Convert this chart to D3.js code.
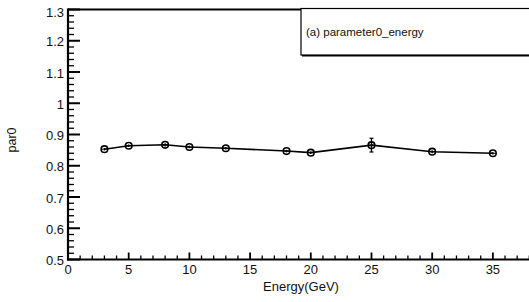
<!DOCTYPE html>
<html>
<head>
<meta charset="utf-8">
<script src="https://cdn.jsdelivr.net/npm/d3@7"></script>
<style>
  body { margin: 0; background: #fff; }
  svg { display: block; font-family: 'Liberation Sans', Arial, sans-serif; }
</style>
</head>
<body>
<div id="cnt"></div>
<script>
const energies = [3, 5, 8, 10, 13, 18, 20, 25, 30, 35]
const par0 = [0.853, 0.864, 0.867, 0.860, 0.856, 0.847, 0.842, 0.866, 0.845, 0.840]
const par0Err = [0.004, 0.004, 0.005, 0.004, 0.004, 0.004, 0.004, 0.022, 0.005, 0.004]
const xMajor = [0, 5, 10, 15, 20, 25, 30, 35]
const yMajor = [0.5, 0.6, 0.7, 0.8, 0.9, 1, 1.1, 1.2, 1.3]
const legendText = '(a) parameter0_energy'
const xTitle = 'Energy(GeV)'
const yTitle = 'par0'

const width = 529
const height = 302

const x = d3.scaleLinear().domain([0, 38]).range([68, 529.3])
const y = d3.scaleLinear().domain([0.5, 1.3]).range([259.5, 9.5])

const svg = d3.select('#cnt')
    .append('svg')
    .attr('width', width)
    .attr('height', height)

// frame top line
svg.append('line')
    .attr('x1', x(0)).attr('x2', width)
    .attr('y1', y(1.3)).attr('y2', y(1.3))
    .attr('stroke', 'black')
    .attr('stroke-width', 2)

// y axis
const yTicks = d3.range(0, 41).map(i => 0.5 + i * 0.02)
const isYMajor = d => yMajor.some(v => Math.abs(v - d) < 1e-6)
svg.append('g')
    .selectAll('line')
    .data(yTicks)
    .join('line')
    .attr('x1', x(0))
    .attr('x2', d => x(0) + (isYMajor(d) ? 12 : 6))
    .attr('y1', d => y(d)).attr('y2', d => y(d))
    .attr('stroke', 'black')
    .attr('stroke-width', d => isYMajor(d) ? 2 : 1.3)
svg.append('line')
    .attr('x1', x(0)).attr('x2', x(0))
    .attr('y1', y(1.3) - 1).attr('y2', y(0.5) + 1)
    .attr('stroke', 'black')
    .attr('stroke-width', 2.2)

svg.append('g')
    .selectAll('text')
    .data(yMajor)
    .join('text')
    .attr('x', 64)
    .attr('y', d => y(d) + (d === 1.3 ? 7 : 5.5))
    .attr('text-anchor', 'end')
    .attr('font-size', 13)
    .attr('fill', '#111')
    .text(d => d3.format('~g')(d))

// x axis
const xTicks = d3.range(0, 39)
svg.append('g')
    .selectAll('line')
    .data(xTicks)
    .join('line')
    .attr('x1', d => x(d)).attr('x2', d => x(d))
    .attr('y1', y(0.5))
    .attr('y2', d => y(0.5) - (d % 5 === 0 ? 7 : 4))
    .attr('stroke', 'black')
    .attr('stroke-width', d => d % 5 === 0 ? 1.8 : 1.3)
svg.append('line')
    .attr('x1', x(0) - 1).attr('x2', width)
    .attr('y1', y(0.5)).attr('y2', y(0.5))
    .attr('stroke', 'black')
    .attr('stroke-width', 2.2)

svg.append('g')
    .selectAll('text')
    .data(xMajor)
    .join('text')
    .attr('x', d => x(d))
    .attr('y', 273.5)
    .attr('text-anchor', 'middle')
    .attr('font-size', 13)
    .attr('fill', '#111')
    .text(d => d)

svg.append('text')
    .attr('x', 301)
    .attr('y', 290.5)
    .attr('text-anchor', 'middle')
    .attr('font-size', 13)
    .attr('fill', '#111')
    .text(xTitle)

svg.append('text')
    .attr('transform', `translate(16,140) rotate(-90)`)
    .attr('text-anchor', 'middle')
    .attr('font-size', 12.5)
    .attr('fill', '#111')
    .text(yTitle)

// legend box
svg.append('rect')
    .attr('x', 302).attr('y', 10)
    .attr('width', 240).attr('height', 46.5)
    .attr('fill', 'black')
svg.append('rect')
    .attr('x', 301).attr('y', 8.5)
    .attr('width', 240).attr('height', 46.5)
    .attr('fill', 'white')
    .attr('stroke', 'black')
    .attr('stroke-width', 1.2)
svg.append('text')
    .attr('x', 306)
    .attr('y', 36)
    .attr('font-size', 11.5)
    .attr('fill', '#111')
    .text(legendText)

// data
const pts = energies.map((e, i) => ({e, v: par0[i], err: par0Err[i]}))

svg.append('path')
    .datum(pts)
    .attr('fill', 'none')
    .attr('stroke', 'black')
    .attr('stroke-width', 1.6)
    .attr('d', d3.line().x(d => x(d.e)).y(d => y(d.v)))

const g = svg.append('g')
    .selectAll('g')
    .data(pts)
    .join('g')
g.append('line')
    .attr('x1', d => x(d.e)).attr('x2', d => x(d.e))
    .attr('y1', d => y(d.v + d.err)).attr('y2', d => y(d.v - d.err))
    .attr('stroke', 'black').attr('stroke-width', 1.3)
g.append('line')
    .attr('x1', d => x(d.e) - 3).attr('x2', d => x(d.e) + 3)
    .attr('y1', d => y(d.v)).attr('y2', d => y(d.v))
    .attr('stroke', 'black').attr('stroke-width', 1)
g.filter(d => d.err > 0.01).selectAll('.cap')
    .data(d => [d.v + d.err, d.v - d.err].map(v => ({e: d.e, v})))
    .join('line')
    .attr('x1', d => x(d.e) - 2).attr('x2', d => x(d.e) + 2)
    .attr('y1', d => y(d.v)).attr('y2', d => y(d.v))
    .attr('stroke', 'black').attr('stroke-width', 1.2)
g.append('circle')
    .attr('cx', d => x(d.e))
    .attr('cy', d => y(d.v))
    .attr('r', 3.3)
    .attr('fill', 'none')
    .attr('stroke', 'black')
    .attr('stroke-width', 1.6)
</script>
</body>
</html>
